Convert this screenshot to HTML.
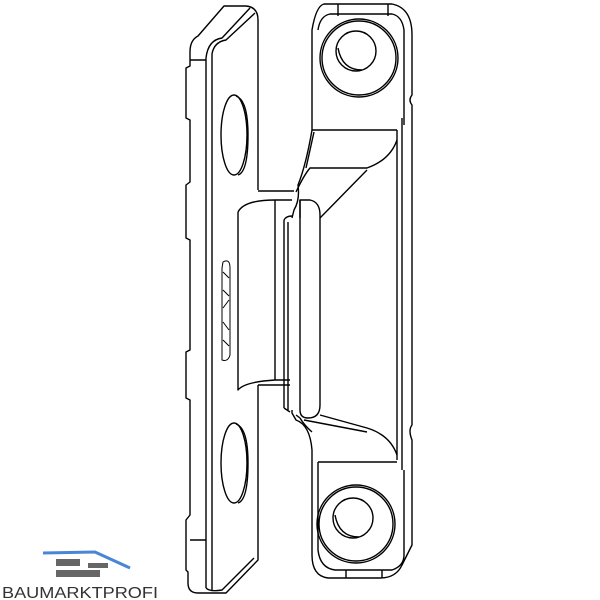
<!DOCTYPE html>
<html><head><style>html,body{margin:0;padding:0;background:#fff}svg{display:block}</style></head><body>
<svg width="600" height="600" viewBox="0 0 600 600" xmlns="http://www.w3.org/2000/svg">
<g fill="none" stroke="#000" stroke-width="1.4" stroke-linejoin="round">
<!-- left plate outline -->
<path d="M258,190 L258,20 Q258,7 246,6 L224,6 L198,36 Q190,40 190,52 L190,66 L186,68 L186,118 L190,120 L190,182 L186,185 L186,238 L190,240 L190,350 L186,352 L186,398 L190,400 L190,515 L186,520 L186,570 L188,572 L188,583 Q188,593 198,593 L226,593 L258,560 L258,385"/>
<path d="M190,60 L206,60 M190,540 L206,540"/>
<path d="M206,58 L206,588 M212,54 L212,590 M206,58 Q208,40 222,38 L250,8 M212,54 Q214,42 226,40 L255,13"/>
<path d="M206,588 Q210,592 222,590 L254,558"/>
<ellipse cx="234" cy="135" rx="13" ry="40"/>
<path d="M236,96 Q248,100 248,135 Q248,172 238,175"/>
<ellipse cx="234" cy="463" rx="13" ry="40"/>
<path d="M236,424 Q248,428 248,463 Q248,500 238,503"/>
<!-- logo marks -->
<path d="M223,262 Q230,258 230,268 L230,355 Q228,362 222,360 L222,268 Z" stroke-width="1"/>
<path d="M223,272 L229,278 M223,290 L229,296 M223,308 L229,300 M223,322 L229,330 M223,340 L229,346" stroke-width="1"/>
<!-- middle block -->
<path d="M258,191 L294,191 M238,212 Q244,200 275,200 L292,200 M238,212 L238,390 Q244,382 275,380 L290,380 M258,385 L290,385"/>
<path d="M275,200 L275,380 M284,220 L284,408 M288,222 L288,410"/>
<path d="M284,220 Q286,216 292,216 M284,408 L290,412"/>
<!-- front bar -->
<path d="M300,200 L310,200 Q320,202 320,215 L320,405 Q320,418 308,418 Q300,418 300,410 Z"/>
<path d="M300,200 L300,218 M300,418 L296,415"/>
<!-- right part -->
<path d="M292,218 L294,210 Q300,200 298,185 Q306,165 312,130 L312,30 Q316,6 324,4 L392,4 Q412,8 412,35 L412,95 Q408,100 412,105 L412,425 Q408,430 412,440 L412,545 L402,565 Q396,578 380,578 L328,578 Q312,576 312,555 L312,450 Q310,425 296,420 L292,413 L292,410"/>
<path d="M318,30 Q320,16 330,14 L392,14 Q402,16 404,30 L404,125 M312,130 L397,130 M397,130 L397,460 M402,118 L402,470 M318,462 L397,462 M404,470 L404,555"/>
<path d="M338,4 L338,16 M388,4 L388,16"/>
<path d="M296,192 Q304,175 310,168 L367,168 Q390,160 397,140 M320,218 L367,170 M306,168 Q310,150 314,132"/>
<path d="M320,415 L367,428 Q390,435 397,455 M304,420 L367,432 M300,418 Q304,425 312,432"/>
<path d="M318,462 L318,550 Q320,568 335,570 L392,570 Q404,566 404,555"/>
<path d="M346,570 L346,578 M382,570 L382,578"/>
<circle cx="359" cy="58" r="39"/>
<circle cx="359" cy="58" r="37"/>
<circle cx="356" cy="51" r="20"/>
<path d="M338,48 Q342,70 362,70"/>
<circle cx="356" cy="524" r="39"/>
<circle cx="356" cy="524" r="37"/>
<circle cx="353" cy="518" r="20"/>
<path d="M335,515 Q339,537 359,537"/>
</g>
<!-- logo -->
<path d="M43,553 L95,552 L130,568" fill="none" stroke="#4a86d8" stroke-width="3"/>
<rect x="56" y="559" width="24" height="7" fill="#666"/>
<rect x="88" y="563" width="20" height="5" fill="#666"/>
<rect x="56" y="570" width="44" height="7" fill="#666"/>
<text x="2" y="598" font-family="Liberation Sans, sans-serif" font-size="16" fill="#333" textLength="156" lengthAdjust="spacingAndGlyphs">BAUMARKTPROFI</text>
</svg>
</body></html>
